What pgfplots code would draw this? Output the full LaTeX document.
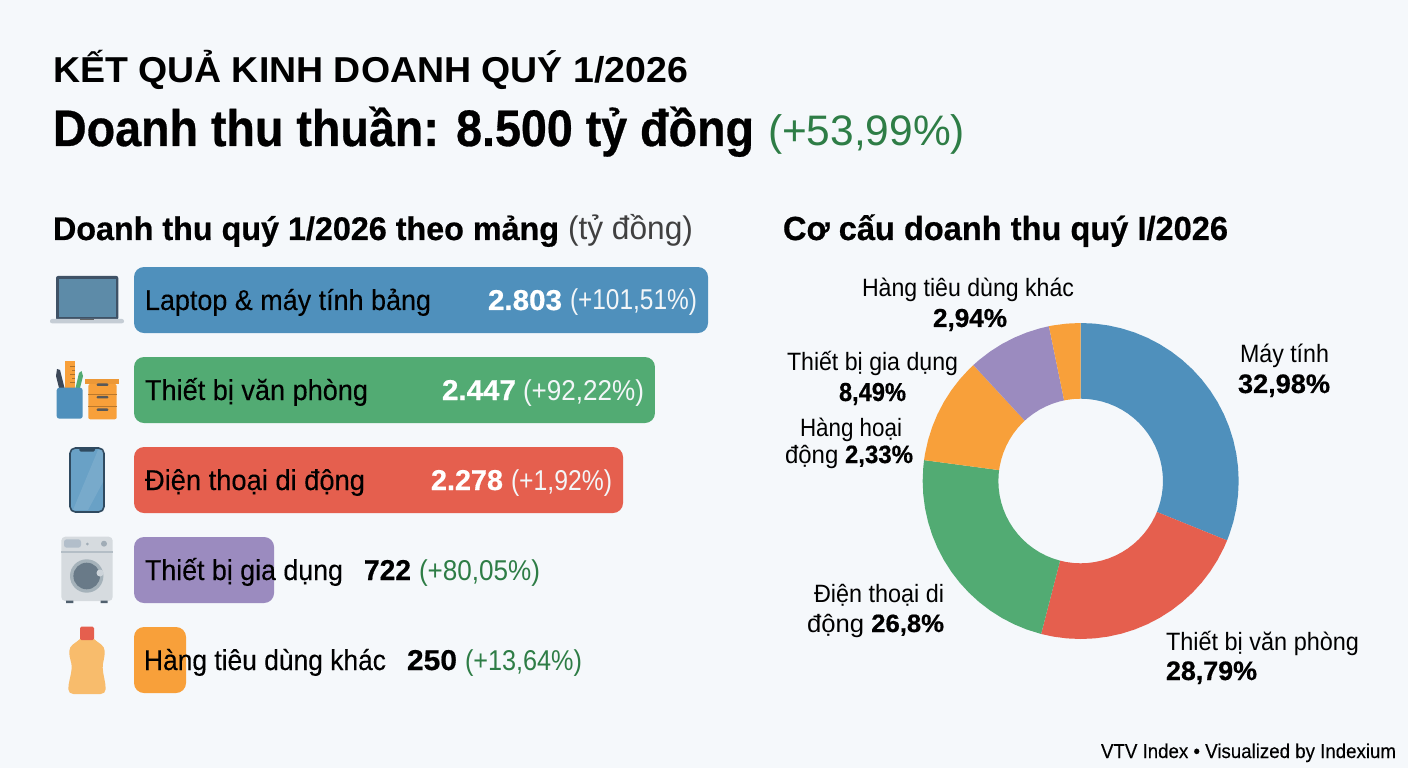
\documentclass[border=0pt]{standalone}
\usepackage{fontspec}
\usepackage{graphicx}
\usepackage{pgfplots}
\pgfplotsset{compat=1.18}
\usepgfplotslibrary{polar}
\setmainfont{Liberation Sans}[BoldFeatures={FakeBold=0.6}]
\newfontface\medg{Liberation Sans}[FakeBold=0.2]
\newfontface\medf{Liberation Sans}[UprightFont=* Bold]
\newdimen\px \px=0.75pt
\definecolor{bg}{HTML}{F5F8FB}
\definecolor{cblue}{HTML}{4F90BC}
\definecolor{cgreen}{HTML}{52AB73}
\definecolor{cred}{HTML}{E55F4E}
\definecolor{cpurple}{HTML}{9B8BBF}
\definecolor{corange}{HTML}{F8A03A}
\definecolor{tgreen}{HTML}{2E7D46}
\definecolor{lightw}{HTML}{F3F6F8}
% text helper: x, baseline (pixels), width (pixels), font size (pt), text
\newcommand\W[5]{\node[anchor=base west,inner sep=0pt,outer sep=0pt] at (#1,#2) {\resizebox{#3\px}{\height}{\fontsize{#4}{#4}\selectfont\strut #5}};}
\begin{document}
\begin{tikzpicture}
\useasboundingbox (0,0) rectangle (1056pt,576pt);
\fill[bg] (0,0) rectangle (1056pt,576pt);
% bars: lengths as drawn in the picture, scaled so that 2803 is the longest bar
\begin{axis}[at={(100.5pt,47.25pt)},anchor=south west,scale only axis,width=430.5pt,height=337.5pt,
  hide axis,clip=false,xmin=0,xmax=2803,ymin=-0.5,ymax=4.5,y dir=reverse,
  xbar,bar width=49.5pt,bar shift=0pt]
\addplot[draw=none,fill=cblue,rounded corners=7.5pt] coordinates {(2803,0)};
\addplot[draw=none,fill=cgreen,rounded corners=7.5pt] coordinates {(2544,1)};
\addplot[draw=none,fill=cred,rounded corners=7.5pt] coordinates {(2388,2)};
\addplot[draw=none,fill=cpurple,rounded corners=7.5pt] coordinates {(684,3)};
\addplot[draw=none,fill=corange,rounded corners=7.5pt] coordinates {(254,4)};
\end{axis}
% donut
\begin{polaraxis}[at={(810.5pt,215.25pt)},anchor=center,scale only axis,width=237pt,
  hide axis,clip=false,xmin=0,xmax=360,ymin=0,ymax=158]
\addplot[draw=none,fill=cblue] coordinates {(90,158)(85,158)(80,158)(75,158)(70,158)(65,158)(60,158)(55,158)(50,158)(45,158)(40,158)(35,158)(30,158)(25,158)(20,158)(15,158)(10,158)(5,158)(0,158)(-5,158)(-10,158)(-15,158)(-20,158)(-22.1,158)
 (-22.1,82.3)(-20,82.3)(-15,82.3)(-10,82.3)(-5,82.3)(0,82.3)(5,82.3)(10,82.3)(15,82.3)(20,82.3)(25,82.3)(30,82.3)(35,82.3)(40,82.3)(45,82.3)(50,82.3)(55,82.3)(60,82.3)(65,82.3)(70,82.3)(75,82.3)(80,82.3)(85,82.3)(90,82.3)(90,158)};
\addplot[draw=none,fill=cred] coordinates {(-22.1,158)(-25,158)(-30,158)(-35,158)(-40,158)(-45,158)(-50,158)(-55,158)(-60,158)(-65,158)(-70,158)(-75,158)(-80,158)(-85,158)(-90,158)(-95,158)(-100,158)(-104.5,158)
 (-104.5,82.3)(-100,82.3)(-95,82.3)(-90,82.3)(-85,82.3)(-80,82.3)(-75,82.3)(-70,82.3)(-65,82.3)(-60,82.3)(-55,82.3)(-50,82.3)(-45,82.3)(-40,82.3)(-35,82.3)(-30,82.3)(-25,82.3)(-22.1,82.3)(-22.1,158)};
\addplot[draw=none,fill=cgreen] coordinates {(-104.5,158)(-110,158)(-115,158)(-120,158)(-125,158)(-130,158)(-135,158)(-140,158)(-145,158)(-150,158)(-155,158)(-160,158)(-165,158)(-170,158)(-175,158)(-180,158)(-185,158)(-187.6,158)
 (-187.6,82.3)(-185,82.3)(-180,82.3)(-175,82.3)(-170,82.3)(-165,82.3)(-160,82.3)(-155,82.3)(-150,82.3)(-145,82.3)(-140,82.3)(-135,82.3)(-130,82.3)(-125,82.3)(-120,82.3)(-115,82.3)(-110,82.3)(-104.5,82.3)(-104.5,158)};
\addplot[draw=none,fill=corange] coordinates {(172.4,158)(170,158)(165,158)(160,158)(155,158)(150,158)(145,158)(140,158)(135,158)(132.8,158)
 (132.8,82.3)(135,82.3)(140,82.3)(145,82.3)(150,82.3)(155,82.3)(160,82.3)(165,82.3)(170,82.3)(172.4,82.3)(172.4,158)};
\addplot[draw=none,fill=cpurple] coordinates {(132.8,158)(130,158)(125,158)(120,158)(115,158)(110,158)(105,158)(101.6,158)
 (101.6,82.3)(105,82.3)(110,82.3)(115,82.3)(120,82.3)(125,82.3)(130,82.3)(132.8,82.3)(132.8,158)};
\addplot[draw=none,fill=corange] coordinates {(101.6,158)(100,158)(95,158)(90,158)
 (90,82.3)(95,82.3)(100,82.3)(101.6,82.3)(101.6,158)};
\end{polaraxis}
\begin{scope}[x=0.75pt,y=-0.75pt,yshift=576pt]
% titles
\W{53}{83}{635}{27}{\medf KẾT QUẢ KINH DOANH QUÝ 1/2026}
\W{53}{146}{701}{38.5}{\bfseries Doanh thu thuần: 8.500 tỷ đồng}
\W{768}{146}{197}{32}{\color{tgreen}(+53,99\%)}
\W{53}{240}{506}{24.5}{\bfseries Doanh thu quý 1/2026 theo mảng}
\W{568}{240}{125}{24.5}{\color{black!75}(tỷ đồng)}
\W{783}{240}{445}{25}{\bfseries Cơ cấu doanh thu quý I/2026}
% bar labels
\W{145}{310}{286}{21.5}{\medg Laptop \& máy tính bảng}
\W{488}{310}{74}{21.5}{\bfseries\color{white}2.803}
\W{570}{310}{127}{21.5}{\color{lightw}(+101,51\%)}
\W{145}{400}{223}{21.5}{\medg Thiết bị văn phòng}
\W{442}{400}{74}{21.5}{\bfseries\color{white}2.447}
\W{523}{400}{121}{21.5}{\color{lightw}(+92,22\%)}
\W{145}{490}{220}{21.5}{\medg Điện thoại di động}
\W{431}{490}{72}{21.5}{\bfseries\color{white}2.278}
\W{511}{490}{101}{21.5}{\color{lightw}(+1,92\%)}
\W{145}{580}{198}{21.5}{\medg Thiết bị gia dụng}
\W{364}{580}{47}{21.5}{\bfseries 722}
\W{419}{580}{121}{21.5}{\color{tgreen}(+80,05\%)}
\W{144}{670}{242}{21.5}{\medg Hàng tiêu dùng khác}
\W{407}{670}{50}{21.5}{\bfseries 250}
\W{465}{670}{117}{21.5}{\color{tgreen}(+13,64\%)}
% donut labels
\W{862}{297}{212}{18.8}{Hàng tiêu dùng khác}
\W{933}{327}{74}{19.5}{\bfseries 2,94\%}
\W{1240}{363}{89}{18.8}{Máy tính}
\W{1238}{393}{92}{20}{\bfseries 32,98\%}
\W{787}{371}{171}{18.8}{Thiết bị gia dụng}
\W{839}{401}{67}{19.5}{\bfseries 8,49\%}
\W{800}{437}{102}{18.8}{Hàng hoại}
\W{785}{463}{128}{18.8}{động \textbf{2,33\%}}
\W{814}{602}{130}{18.8}{Điện thoại di}
\W{807}{632}{137}{18.8}{động \textbf{26,8\%}}
\W{1166}{650}{193}{18.8}{Thiết bị văn phòng}
\W{1166}{680}{91}{20}{\bfseries 28,79\%}
\W{1101}{758}{295}{15}{\medg VTV Index • Visualized by Indexium}
% icons (decoration)
% laptop
\fill[rounded corners=1.5pt,color={rgb,255:red,63;green,82;blue,102}] (56,276) rectangle (118.3,320);
\fill[color={rgb,255:red,93;green,139;blue,168}] (58.7,278.7) rectangle (116,317.3);
\fill[rounded corners=1.5pt,color={rgb,255:red,197;green,205;blue,213}] (50,319) rectangle (124,323.3);
\fill[color=black!60] (80,319) rectangle (94,320.5);
% office
\fill[color=corange] (65.3,361) rectangle (75.3,388);
\draw[color=corange!70!black,line width=0.4pt] (70,366) -- (75,366) (72,370) -- (75,370) (70,374) -- (75,374) (72,378) -- (75,378) (70,382) -- (75,382);
\fill[color={rgb,255:red,60;green,72;blue,88}] (56,376) -- (57,369) -- (60,370) -- (64.5,388) -- (59,388) -- cycle;
\fill[color=cgreen] (75.5,388) -- (79,373) -- (81.5,371) -- (83,376) -- (80,388) -- cycle;
\fill[rounded corners=2pt,color=cblue] (56.7,387.7) rectangle (82.7,418.7);
\fill[rounded corners=1.5pt,color=corange] (88.3,384) rectangle (116.7,419.3);
\fill[color=corange!95!black] (85,379.3) rectangle (119.3,384);
\draw[color=corange!75!black,line width=0.5pt] (88.3,394.3) -- (116.7,394.3) (88.3,406.7) -- (116.7,406.7);
\fill[rounded corners=.7pt,color=black!65] (96.7,383.5) rectangle (108.3,386) (96.7,396) rectangle (108.3,398.5) (96.7,408.5) rectangle (108.3,411);
% phone
\filldraw[rounded corners=4pt,fill=cblue!85!white,draw={rgb,255:red,47;green,74;blue,96},line width=1.2pt] (70,448) rectangle (104,512);
\fill[color=white,opacity=0.10] (98,450) -- (103,450) -- (103,482) -- (88,510) -- (73,510) -- cycle;
\fill[rounded corners=1pt,color={rgb,255:red,47;green,74;blue,96}] (79.3,448) rectangle (95,451.5);
% washer
\fill[rounded corners=3pt,color={rgb,255:red,214;green,219;blue,223}] (61.3,536.7) rectangle (112.7,601);
\fill[color={rgb,255:red,180;green,190;blue,198}] (61.3,551) rectangle (112.7,552.5);
\fill[rounded corners=2pt,color={rgb,255:red,178;green,190;blue,202}] (64,539.3) rectangle (81,547.7);
\fill[color={rgb,255:red,160;green,172;blue,182}] (87.3,544) circle[radius=1.5];
\fill[color={rgb,255:red,160;green,172;blue,182}] (104,543.7) circle[radius=3];
\fill[color={rgb,255:red,165;green,178;blue,186}] (86.7,576) circle[radius=16.7];
\fill[color={rgb,255:red,105;green,122;blue,136}] (86.7,576) circle[radius=13.3];
\fill[color={rgb,255:red,205;green,212;blue,218}] (100,573) circle[radius=3.5];
\fill[color={rgb,255:red,80;green,96;blue,110}] (66,600.7) rectangle (73.3,603) (100.7,600.7) rectangle (107.7,603);
% bottle
\fill[color={rgb,255:red,248;green,188;blue,108}] (80,639) .. controls (76,643) and (69.3,645) .. (69.3,651) .. controls (69.3,660) and (72,662) .. (71.7,668) .. controls (71.4,675) and (68.3,682) .. (68.3,689) .. controls (68.3,692) and (70.5,694) .. (73.3,694) -- (100.7,694) .. controls (103.5,694) and (105.7,692) .. (105.7,689) .. controls (105.7,682) and (103,675) .. (102.7,668) .. controls (102.4,662) and (104.7,660) .. (104.7,651) .. controls (104.7,645) and (98,643) .. (94,639) -- cycle;
\fill[rounded corners=1pt,color=cred] (80,626.7) rectangle (94,640);
\end{scope}
\end{tikzpicture}
\end{document}
